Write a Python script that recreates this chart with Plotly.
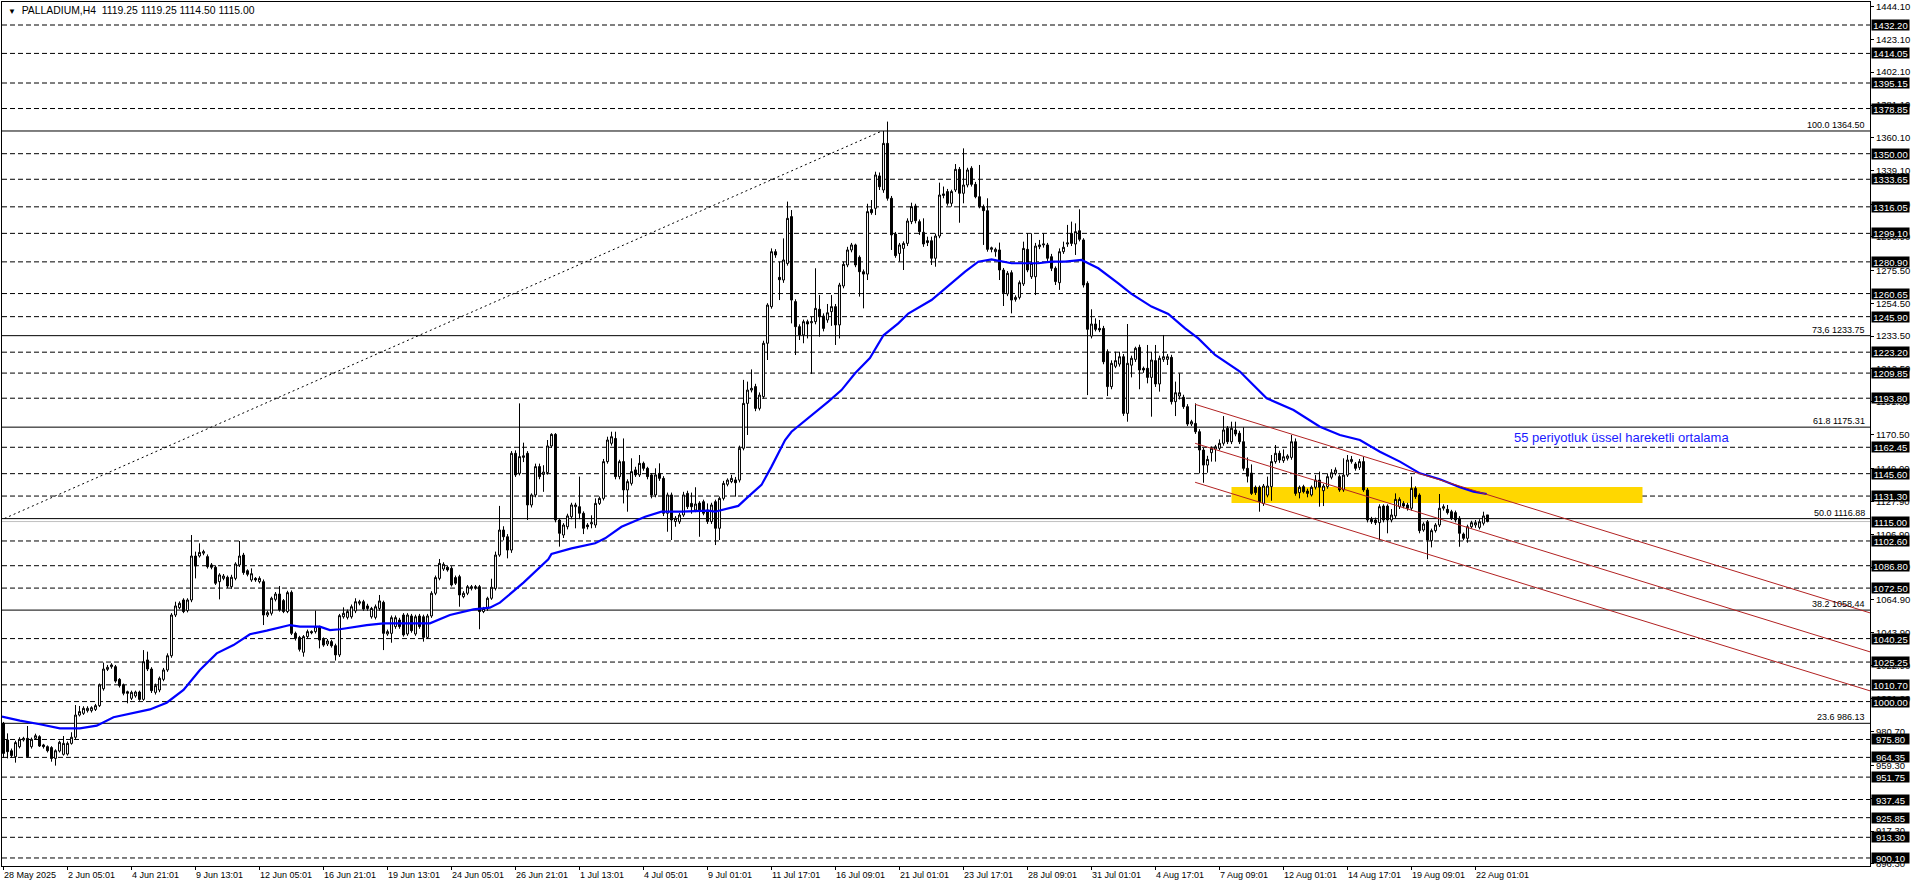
import plotly.graph_objects as go

FONT = "Liberation Sans, Arial, DejaVu Sans, sans-serif"

# ---------------- candle data (H4 bars, index 0 = 28 May 2025) ----------------
opens = [
    986.1, 975.5, 968.6, 964.8, 971.2, 975.5, 976.5, 971.2, 976.5, 977.6,
    972.3, 971.2, 970.6, 963.7, 968.4, 966.3, 966.5, 973.3, 977.2, 991.4,
    992.5, 994.2, 994.2, 995.0, 997.4, 1008.2, 1020.6, 1022.3, 1022.3, 1014.2,
    1010.6, 1006.3, 1002.1, 1003.6, 1006.1, 1001.4, 1026.6, 1020.8, 1005.9, 1007.4,
    1014.2, 1020.2, 1029.3, 1055.3, 1060.0, 1064.9, 1058.1, 1064.9, 1093.0, 1093.0,
    1094.8, 1092.6, 1087.3, 1085.8, 1076.6, 1078.7, 1079.4, 1073.4, 1078.7, 1087.3,
    1093.6, 1083.6, 1077.7, 1078.7, 1076.6, 1076.6, 1055.3, 1056.4, 1065.3, 1068.7,
    1064.5, 1057.5, 1069.8, 1043.6, 1041.0, 1031.5, 1041.5, 1044.7, 1044.7, 1047.4,
    1039.8, 1036.8, 1038.3, 1035.7, 1029.8, 1054.2, 1053.8, 1054.2, 1057.9, 1062.8,
    1063.8, 1061.1, 1054.2, 1053.8, 1059.5, 1063.4, 1043.2, 1043.6, 1047.9, 1052.1,
    1055.3, 1043.2, 1054.7, 1043.2, 1054.7, 1054.2, 1041.0, 1054.7, 1069.2, 1078.7,
    1084.7, 1085.8, 1085.1, 1079.2, 1079.8, 1067.0, 1069.2, 1072.3, 1073.4, 1073.4,
    1057.5, 1059.5, 1066.0, 1072.3, 1093.6, 1109.6, 1105.3, 1096.8, 1158.6, 1145.8,
    1156.0, 1158.6, 1125.6, 1132.0, 1150.1, 1145.1, 1146.3, 1163.3, 1170.7, 1116.0,
    1106.4, 1111.7, 1118.1, 1124.5, 1124.5, 1120.3, 1112.8, 1113.5, 1112.8, 1126.6,
    1129.8, 1153.3, 1165.0, 1168.1, 1143.7, 1153.3, 1135.2, 1139.4, 1148.0, 1144.8,
    1152.2, 1149.0, 1144.8, 1132.0, 1145.8, 1142.6, 1120.3, 1132.0, 1115.0, 1114.9,
    1119.2, 1133.0, 1126.6, 1122.4, 1126.8, 1127.7, 1122.4, 1115.0, 1127.7, 1110.7,
    1129.8, 1138.8, 1140.5, 1141.6, 1141.5, 1161.8, 1190.5, 1199.0, 1201.2, 1187.3,
    1194.8, 1228.9, 1252.3, 1287.4, 1271.0, 1269.3, 1279.9, 1309.8, 1255.5, 1239.5,
    1234.2, 1242.7, 1242.0, 1242.7, 1250.6, 1246.3, 1243.8, 1249.1, 1252.3, 1240.6,
    1265.5, 1278.9, 1288.5, 1291.7, 1283.8, 1274.6, 1273.1, 1314.3, 1315.1, 1335.8,
    1326.8, 1356.6, 1321.5, 1298.7, 1286.3, 1289.5, 1292.7, 1306.6, 1316.6, 1306.6,
    1299.8, 1294.4, 1294.4, 1283.2, 1297.4, 1323.3, 1325.8, 1318.3, 1326.8, 1340.0,
    1324.7, 1330.0, 1340.7, 1330.4, 1322.5, 1316.2, 1313.6, 1288.9, 1287.4, 1288.5,
    1275.7, 1260.4, 1274.0, 1256.9, 1258.2, 1266.8, 1288.9, 1271.4, 1271.4, 1290.6,
    1291.7, 1291.7, 1284.2, 1276.8, 1267.6, 1287.4, 1292.3, 1299.1, 1292.3, 1300.8,
    1294.9, 1267.2, 1233.5, 1241.2, 1238.4, 1238.4, 1223.5, 1201.2, 1214.2, 1215.6,
    1220.3, 1184.1, 1214.9, 1218.6, 1226.3, 1212.9, 1212.9, 1207.1, 1217.8, 1202.9,
    1218.6, 1218.6, 1219.9, 1191.6, 1195.2, 1194.4, 1188.4, 1177.3, 1177.7, 1172.4,
    1160.7, 1151.1, 1159.0, 1161.3, 1161.8, 1165.0, 1174.6, 1166.0, 1173.5, 1171.4,
    1166.0, 1149.0, 1146.0, 1136.9, 1136.9, 1126.6, 1131.9, 1137.3, 1153.3, 1158.6,
    1153.9, 1155.4, 1156.0, 1166.0, 1133.5, 1137.3, 1134.5, 1132.0, 1136.9, 1141.5,
    1134.7, 1137.3, 1143.3, 1145.8, 1143.7, 1135.2, 1144.7, 1153.3, 1151.8, 1149.6,
    1153.3, 1135.2, 1116.4, 1116.0, 1114.3, 1124.9, 1124.9, 1116.0, 1118.6, 1124.5,
    1126.6, 1125.6, 1123.5, 1136.2, 1131.9, 1109.6, 1114.9, 1102.8, 1109.2, 1112.8,
    1123.5, 1122.8, 1121.3, 1120.7, 1117.1, 1107.0, 1104.3, 1111.7, 1112.8, 1111.3,
    1113.9, 1119.25,
]
highs = [
    987.0, 979.7, 970.0, 975.0, 977.2, 977.5, 984.4, 977.0, 979.5, 978.5,
    973.0, 972.0, 971.5, 969.5, 975.0, 978.0, 974.5, 980.4, 997.8, 997.2,
    997.0, 997.0, 997.0, 998.5, 1011.5, 1024.9, 1023.4, 1024.5, 1023.4, 1015.0,
    1011.5, 1007.0, 1007.0, 1007.0, 1007.0, 1032.9, 1031.9, 1022.0, 1011.5, 1016.0,
    1021.5, 1030.8, 1056.5, 1063.8, 1064.0, 1066.0, 1066.0, 1106.4, 1095.8, 1101.1,
    1097.0, 1094.0, 1088.5, 1087.0, 1082.0, 1081.5, 1080.5, 1081.0, 1089.0, 1102.6,
    1095.0, 1084.5, 1085.1, 1079.5, 1080.0, 1078.0, 1058.0, 1067.0, 1070.0, 1073.8,
    1065.5, 1070.8, 1071.0, 1044.7, 1042.0, 1042.5, 1046.0, 1045.5, 1058.1, 1048.5,
    1041.0, 1040.0, 1039.5, 1037.0, 1056.0, 1060.2, 1058.8, 1062.0, 1066.0, 1065.0,
    1065.0, 1062.5, 1060.5, 1062.0, 1068.1, 1064.5, 1046.0, 1055.0, 1055.0, 1053.5,
    1056.5, 1056.5, 1056.0, 1055.5, 1056.0, 1055.5, 1056.0, 1070.5, 1080.5, 1091.1,
    1089.0, 1087.0, 1086.5, 1080.5, 1081.0, 1070.5, 1074.5, 1074.5, 1074.5, 1074.5,
    1060.5, 1067.0, 1078.5, 1095.8, 1125.0, 1112.0, 1107.0, 1160.0, 1160.5, 1190.5,
    1165.4, 1160.0, 1133.0, 1152.0, 1152.0, 1151.0, 1167.1, 1171.4, 1171.5, 1117.0,
    1114.0, 1120.0, 1127.0, 1127.0, 1143.7, 1121.5, 1114.0, 1119.0, 1129.8, 1131.0,
    1155.0, 1169.2, 1172.4, 1172.4, 1154.5, 1168.1, 1142.0, 1155.4, 1150.0, 1157.5,
    1153.3, 1150.0, 1146.0, 1149.0, 1152.2, 1144.0, 1133.5, 1133.5, 1118.5, 1120.5,
    1134.0, 1134.7, 1133.5, 1136.9, 1128.0, 1129.0, 1126.6, 1127.0, 1129.0, 1131.0,
    1141.0, 1142.6, 1144.8, 1143.5, 1163.5, 1205.5, 1204.4, 1212.2, 1203.0, 1197.5,
    1230.5, 1254.5, 1289.5, 1289.0, 1281.0, 1295.9, 1319.4, 1314.0, 1257.0, 1241.0,
    1244.0, 1244.0, 1245.9, 1276.8, 1259.7, 1248.0, 1254.0, 1259.7, 1254.0, 1267.5,
    1281.0, 1290.5, 1293.0, 1292.5, 1285.0, 1276.0, 1318.0, 1320.4, 1338.5, 1338.0,
    1364.5, 1370.5, 1323.0, 1300.0, 1293.0, 1294.0, 1308.7, 1318.7, 1318.0, 1308.0,
    1308.7, 1297.0, 1297.0, 1299.0, 1331.5, 1329.0, 1327.5, 1327.0, 1343.4, 1341.5,
    1353.4, 1341.0, 1342.0, 1332.0, 1342.8, 1317.5, 1321.5, 1290.6, 1290.0, 1293.2,
    1277.0, 1275.0, 1275.5, 1259.5, 1269.0, 1293.8, 1299.1, 1299.1, 1293.0, 1294.9,
    1299.1, 1293.0, 1286.0, 1278.0, 1289.5, 1293.8, 1304.5, 1306.6, 1305.5, 1314.5,
    1296.0, 1268.5, 1250.6, 1244.8, 1243.8, 1240.0, 1225.0, 1218.0, 1223.5, 1223.5,
    1222.0, 1241.2, 1221.0, 1226.7, 1228.0, 1214.0, 1227.8, 1223.5, 1227.8, 1221.0,
    1234.2, 1222.0, 1221.5, 1204.4, 1209.7, 1196.0, 1190.0, 1180.0, 1190.5, 1174.0,
    1162.0, 1157.0, 1163.0, 1164.0, 1167.5, 1182.4, 1176.0, 1178.8, 1178.8, 1173.0,
    1175.2, 1156.0, 1151.5, 1138.0, 1138.0, 1139.0, 1143.7, 1157.5, 1163.9, 1160.3,
    1161.1, 1158.0, 1170.3, 1168.1, 1138.0, 1138.5, 1136.0, 1138.0, 1144.7, 1146.9,
    1139.0, 1145.8, 1148.5, 1149.6, 1145.0, 1155.4, 1157.5, 1156.9, 1153.0, 1155.0,
    1156.4, 1136.5, 1118.0, 1117.5, 1126.0, 1126.0, 1126.0, 1123.0, 1133.0, 1130.5,
    1128.0, 1127.0, 1143.7, 1137.5, 1133.0, 1114.5, 1116.0, 1110.5, 1114.0, 1132.6,
    1126.0, 1125.6, 1122.5, 1122.0, 1118.5, 1108.0, 1113.0, 1115.5, 1116.0, 1116.5,
    1121.3, 1119.25,
]
lows = [
    964.0, 963.7, 964.0, 961.0, 970.1, 974.5, 964.0, 970.0, 975.5, 971.0,
    970.0, 967.5, 961.6, 959.1, 967.5, 965.5, 965.5, 972.5, 976.0, 990.5,
    991.5, 993.0, 993.0, 994.0, 996.5, 1007.0, 1019.5, 1021.0, 1012.0, 1009.0,
    1004.0, 998.9, 1001.0, 1002.5, 1000.5, 1000.5, 1019.5, 1005.5, 1004.5, 1006.0,
    1013.0, 1019.0, 1028.0, 1054.0, 1059.0, 1056.5, 1057.0, 1063.5, 1078.7, 1092.0,
    1093.5, 1085.0, 1084.5, 1074.5, 1065.3, 1077.5, 1072.5, 1072.0, 1077.5, 1086.0,
    1081.0, 1080.0, 1076.5, 1076.5, 1075.5, 1048.9, 1054.0, 1055.0, 1064.0, 1057.5,
    1056.5, 1056.5, 1042.5, 1039.0, 1032.0, 1028.7, 1040.5, 1043.0, 1043.5, 1034.0,
    1035.0, 1035.5, 1034.5, 1026.2, 1028.5, 1053.0, 1052.5, 1053.0, 1056.5, 1061.5,
    1058.0, 1058.0, 1053.0, 1052.5, 1058.0, 1032.9, 1042.0, 1037.6, 1046.5, 1046.5,
    1041.5, 1042.0, 1044.0, 1042.0, 1046.5, 1038.3, 1040.0, 1053.5, 1068.0, 1077.5,
    1083.5, 1083.0, 1073.5, 1074.5, 1060.6, 1066.0, 1068.0, 1071.0, 1071.5, 1046.2,
    1056.5, 1058.0, 1065.0, 1071.0, 1092.5, 1103.0, 1091.5, 1095.0, 1143.5, 1144.5,
    1153.0, 1116.0, 1124.0, 1130.5, 1142.0, 1134.0, 1145.0, 1162.0, 1114.5, 1099.0,
    1104.5, 1110.0, 1116.5, 1110.7, 1116.5, 1107.0, 1110.0, 1110.7, 1111.0, 1125.6,
    1128.5, 1152.0, 1163.5, 1142.0, 1142.0, 1126.6, 1121.3, 1138.0, 1143.5, 1143.5,
    1147.5, 1142.0, 1129.8, 1130.5, 1141.0, 1118.5, 1108.5, 1103.2, 1111.7, 1113.5,
    1118.0, 1123.0, 1120.0, 1121.0, 1105.3, 1119.0, 1113.5, 1113.5, 1100.0, 1103.2,
    1128.5, 1137.5, 1139.5, 1130.9, 1140.0, 1160.5, 1170.3, 1197.5, 1185.5, 1186.0,
    1193.5, 1218.2, 1251.0, 1283.5, 1256.5, 1267.5, 1278.5, 1241.6, 1221.4, 1231.0,
    1228.9, 1232.0, 1209.3, 1241.0, 1233.1, 1236.5, 1242.0, 1240.0, 1227.8, 1232.0,
    1264.0, 1277.5, 1287.0, 1277.5, 1258.7, 1251.2, 1269.3, 1311.0, 1310.8, 1326.8,
    1325.0, 1320.0, 1288.5, 1283.5, 1281.0, 1275.7, 1291.0, 1305.0, 1305.5, 1298.1,
    1290.5, 1291.0, 1278.9, 1277.8, 1296.0, 1321.5, 1316.8, 1316.2, 1325.5, 1305.9,
    1318.3, 1328.5, 1329.0, 1321.5, 1315.1, 1291.7, 1287.4, 1287.0, 1284.2, 1269.3,
    1252.7, 1259.0, 1248.0, 1255.5, 1256.9, 1265.5, 1274.3, 1270.0, 1259.7, 1289.0,
    1290.0, 1281.5, 1275.0, 1266.1, 1263.0, 1286.0, 1290.5, 1291.0, 1285.3, 1294.0,
    1264.5, 1195.8, 1232.0, 1236.5, 1236.0, 1215.5, 1195.2, 1199.5, 1213.0, 1214.0,
    1182.5, 1178.8, 1207.1, 1217.0, 1199.5, 1210.0, 1203.3, 1182.0, 1201.0, 1198.0,
    1217.0, 1215.0, 1189.8, 1182.4, 1193.0, 1187.0, 1176.0, 1176.0, 1171.0, 1145.8,
    1139.8, 1146.2, 1153.3, 1153.3, 1160.5, 1163.5, 1164.5, 1164.5, 1169.5, 1164.5,
    1147.5, 1140.0, 1132.0, 1132.0, 1121.3, 1125.0, 1130.5, 1128.3, 1152.0, 1152.5,
    1152.5, 1154.0, 1154.5, 1131.5, 1129.8, 1133.0, 1130.5, 1131.0, 1135.5, 1124.5,
    1124.9, 1136.0, 1142.0, 1144.5, 1134.0, 1134.0, 1143.5, 1152.0, 1147.5, 1148.0,
    1134.0, 1114.5, 1113.5, 1112.8, 1103.2, 1114.5, 1107.5, 1114.5, 1117.0, 1123.0,
    1123.5, 1122.0, 1122.0, 1129.5, 1107.5, 1108.5, 1090.9, 1098.5, 1108.0, 1111.5,
    1122.0, 1119.5, 1116.0, 1114.5, 1098.9, 1103.0, 1101.5, 1110.5, 1111.0, 1110.0,
    1112.5, 1114.50,
]
closes = [
    966.9, 968.0, 965.5, 973.8, 975.9, 976.5, 964.8, 975.9, 978.2, 971.6,
    971.2, 968.6, 963.7, 968.6, 974.0, 973.3, 973.3, 977.2, 991.4, 993.6,
    995.7, 995.7, 996.1, 997.4, 1010.6, 1020.8, 1021.9, 1023.4, 1013.1, 1010.2,
    1005.3, 1005.3, 1005.9, 1006.1, 1001.4, 1025.5, 1020.8, 1007.0, 1010.2, 1014.9,
    1020.2, 1029.3, 1055.3, 1061.1, 1062.8, 1057.5, 1064.9, 1093.0, 1086.6, 1095.3,
    1095.8, 1086.2, 1085.8, 1075.6, 1080.9, 1080.2, 1073.8, 1079.4, 1087.9, 1093.0,
    1082.4, 1081.3, 1081.7, 1077.7, 1078.7, 1055.3, 1056.8, 1066.0, 1068.7, 1058.5,
    1057.5, 1069.6, 1043.6, 1040.4, 1033.4, 1041.5, 1044.7, 1044.0, 1047.9, 1039.3,
    1036.1, 1038.7, 1035.7, 1029.8, 1054.9, 1056.4, 1057.5, 1060.6, 1063.8, 1063.8,
    1059.1, 1059.5, 1059.5, 1060.6, 1064.3, 1043.6, 1044.7, 1053.6, 1053.6, 1047.9,
    1042.6, 1055.3, 1045.3, 1054.2, 1047.9, 1041.0, 1054.7, 1069.2, 1079.2, 1088.3,
    1087.7, 1084.1, 1074.5, 1075.6, 1068.1, 1069.2, 1073.4, 1073.4, 1072.8, 1057.5,
    1059.5, 1066.0, 1073.0, 1093.6, 1109.6, 1105.3, 1096.8, 1158.6, 1144.8, 1156.5,
    1157.0, 1125.6, 1132.0, 1150.1, 1143.7, 1146.6, 1163.3, 1170.7, 1116.0, 1107.5,
    1112.8, 1118.6, 1125.6, 1125.6, 1120.3, 1110.7, 1111.7, 1114.3, 1126.6, 1129.8,
    1153.3, 1167.1, 1169.2, 1143.7, 1153.3, 1135.2, 1140.5, 1146.9, 1144.8, 1152.2,
    1149.0, 1143.7, 1132.0, 1144.8, 1142.6, 1120.3, 1132.0, 1116.0, 1117.1, 1119.2,
    1132.0, 1124.5, 1124.5, 1126.2, 1122.4, 1120.3, 1115.0, 1125.6, 1110.7, 1129.8,
    1139.4, 1141.5, 1142.6, 1139.8, 1161.8, 1190.5, 1199.0, 1200.1, 1187.3, 1195.8,
    1228.9, 1253.3, 1287.4, 1285.3, 1269.5, 1282.1, 1308.7, 1256.5, 1239.5, 1234.2,
    1242.7, 1241.2, 1242.7, 1251.2, 1245.9, 1238.4, 1248.4, 1252.3, 1240.6, 1266.1,
    1279.3, 1288.5, 1291.7, 1278.9, 1274.6, 1273.1, 1313.0, 1312.3, 1336.4, 1328.9,
    1356.6, 1321.5, 1298.1, 1284.9, 1291.7, 1292.7, 1307.0, 1316.2, 1307.2, 1300.2,
    1292.3, 1293.2, 1283.2, 1297.4, 1323.6, 1324.3, 1318.3, 1325.8, 1340.0, 1324.7,
    1330.0, 1339.6, 1330.4, 1322.5, 1316.2, 1313.6, 1288.9, 1289.9, 1288.9, 1275.7,
    1261.2, 1273.6, 1256.5, 1258.2, 1267.6, 1289.5, 1275.7, 1280.0, 1291.0, 1291.7,
    1292.3, 1283.2, 1276.8, 1268.3, 1287.4, 1290.2, 1293.0, 1292.7, 1300.2, 1295.3,
    1266.1, 1237.8, 1241.2, 1237.8, 1237.4, 1217.1, 1201.2, 1216.1, 1217.8, 1220.3,
    1184.1, 1216.1, 1219.3, 1225.7, 1211.8, 1211.8, 1207.1, 1218.2, 1202.9, 1219.3,
    1220.3, 1220.3, 1191.6, 1197.3, 1197.3, 1188.4, 1177.3, 1178.8, 1172.4, 1160.7,
    1151.1, 1154.7, 1161.8, 1162.8, 1165.0, 1173.5, 1166.0, 1174.6, 1170.9, 1166.0,
    1149.0, 1144.0, 1133.0, 1133.5, 1127.7, 1137.7, 1137.7, 1153.3, 1158.6, 1154.3,
    1156.4, 1156.9, 1166.0, 1133.0, 1136.9, 1134.1, 1133.0, 1136.9, 1141.5, 1136.9,
    1137.7, 1143.7, 1146.2, 1147.9, 1135.2, 1144.7, 1154.3, 1154.7, 1149.0, 1153.3,
    1135.2, 1116.0, 1114.9, 1114.3, 1124.5, 1116.0, 1116.0, 1119.2, 1129.2, 1129.2,
    1124.9, 1123.5, 1136.2, 1130.9, 1109.2, 1113.4, 1103.2, 1109.2, 1112.8, 1123.5,
    1124.5, 1120.7, 1117.1, 1116.0, 1107.5, 1104.3, 1111.7, 1114.3, 1114.3, 1114.9,
    1118.6, 1115.00,
]
bars = list(range(len(closes)))

# ---------------- 55-period EMA ----------------
ma_bars = [-0.4, 4.1, 9.1, 14.1, 19.1, 23.3, 27.5, 32.5, 36.6, 40.8, 45.0, 49.1, 53.3,
           57.5, 61.6, 65.8, 71.6, 74.1, 79.1, 81.6, 84.1, 90.8, 95.0, 106.6, 111.6,
           117.5, 121.6, 124.1, 130.0, 136.2, 137.0, 142.0, 147.9, 150.4, 154.5, 160.4,
           164.5, 169.5, 176.2, 177.9, 183.7, 186.2, 189.5, 192.0, 195.4, 197.0, 201.2,
           206.2, 209.5, 212.9, 216.6, 220.0, 223.7, 226.2, 232.0, 235.4, 240.4, 243.7,
           247.0, 252.0, 258.7, 262.0, 265.4, 269.5, 273.7, 278.7, 282.0, 287.0, 291.2,
           295.4, 298.7, 302.9, 309.1, 311.2, 315.8, 322.5, 329.1, 334.1, 339.1, 344.1,
           349.1, 354.1, 359.1, 364.1, 367.5, 370.8]
ma_vals = [990.4, 987.8, 985.5, 982.9, 982.9, 984.6, 990.0, 992.5, 995.0, 999.3, 1007.4,
           1020.2, 1030.8, 1036.1, 1043.0, 1045.3, 1048.9, 1047.9, 1047.9, 1045.7, 1046.2,
           1048.9, 1050.0, 1050.0, 1055.3, 1058.9, 1060.0, 1063.2, 1076.0, 1090.9, 1094.3,
           1097.9, 1101.1, 1104.3, 1111.7, 1118.1, 1121.3, 1121.3, 1122.0, 1121.3, 1125.0,
           1130.9, 1138.4, 1150.1, 1167.1, 1172.4, 1180.9, 1191.6, 1199.0, 1209.7, 1219.5,
           1234.0, 1241.6, 1247.9, 1256.5, 1264.0, 1274.7, 1281.0, 1282.5, 1280.0, 1280.0,
           1281.0, 1281.0, 1282.1, 1276.8, 1267.2, 1260.4, 1252.3, 1247.6, 1238.4, 1232.0,
           1221.4, 1210.8, 1205.4, 1193.7, 1186.3, 1175.6, 1170.3, 1167.1, 1159.6, 1153.3,
           1145.8, 1142.0, 1136.9, 1134.1, 1132.6]

# ---------------- horizontal objects ----------------
hline_levels = [1432.20, 1414.05, 1395.15, 1378.85, 1350.00, 1333.65, 1316.05, 1299.10,
                1280.90, 1260.65, 1245.90, 1223.20, 1209.85, 1193.80, 1162.45, 1145.60,
                1131.30, 1102.60, 1086.80, 1072.50, 1040.25, 1025.25, 1010.70, 1000.00,
                975.80, 964.35, 951.75, 937.45, 925.85, 913.30, 900.10]
bid_price = 1115.00
fib_prices = [1364.50, 1233.75, 1175.31, 1116.88, 1058.44, 986.13]
fib_texts = ["100.0 1364.50", "73,6 1233.75", "61.8 1175.31", "50.0 1116.88",
             "38.2 1058.44", "23.6 986.13"]

scale_ticks = [1444.10, 1423.10, 1402.10, 1381.10, 1360.10, 1339.10, 1317.70, 1296.90,
               1275.50, 1254.50, 1233.50, 1212.50, 1191.50, 1170.50, 1149.00, 1127.90,
               1106.90, 1085.90, 1064.90, 1043.90, 1022.90, 1001.90, 980.70, 959.30,
               938.30, 917.30, 896.30]

date_label_bars = list(range(0, 369, 16))
date_labels = ["28 May 2025", "2 Jun 05:01", "4 Jun 21:01", "9 Jun 13:01", "12 Jun 05:01",
               "16 Jun 21:01", "19 Jun 13:01", "24 Jun 05:01", "26 Jun 21:01", "1 Jul 13:01",
               "4 Jul 05:01", "9 Jul 01:01", "11 Jul 17:01", "16 Jul 09:01", "21 Jul 01:01",
               "23 Jul 17:01", "28 Jul 09:01", "31 Jul 01:01", "4 Aug 17:01", "7 Aug 09:01",
               "12 Aug 01:01", "14 Aug 17:01", "19 Aug 09:01", "22 Aug 01:01"]

# drawing objects (bar index, price)
channel_bars = [297.9, 470.0]
channel_starts = [1189.9, 1165.0, 1140.1]
channel_ends = [1054.0, 1029.1, 1004.2]
zone_bars = [307.0, 409.75]
zone_prices = [1126.9, 1137.1]
trend_bars = [-0.9, 219.6]
trend_prices = [1115.7, 1364.5]

title_text = ("<span style='font-size:8px'>\u25bc</span>\u00a0\u00a0PALLADIUM,H4"
              "\u00a0\u00a01119.25 1119.25 1114.50 1115.00")
ma_text = "55 periyotluk üssel hareketli ortalama"
ma_text_bar, ma_text_price = 377.0, 1168.6

x_range = [-0.375, 466.625]
y_range = [894.97, 1446.9]

fig = go.Figure()

fig.add_trace(go.Candlestick(
    x=bars, open=opens, high=highs, low=lows, close=closes,
    increasing=dict(line=dict(color="black", width=1), fillcolor="white"),
    decreasing=dict(line=dict(color="black", width=1), fillcolor="black"),
    whiskerwidth=0, hoverinfo="skip", showlegend=False,
))
fig.add_trace(go.Scatter(x=ma_bars, y=ma_vals, mode="lines",
                         line=dict(color="#0000FF", width=2.2), hoverinfo="skip",
                         showlegend=False))
for s, e in zip(channel_starts, channel_ends):
    fig.add_trace(go.Scatter(x=channel_bars, y=[s, e], mode="lines",
                             line=dict(color="#B22222", width=1), hoverinfo="skip",
                             showlegend=False))
fig.add_trace(go.Scatter(x=trend_bars, y=trend_prices, mode="lines",
                         line=dict(color="black", width=1, dash="2px,3px"),
                         hoverinfo="skip", showlegend=False))

shapes = [dict(type="rect", xref="x", yref="y", x0=zone_bars[0], x1=zone_bars[1],
               y0=zone_prices[0], y1=zone_prices[1], fillcolor="#FFD700",
               line=dict(width=0), layer="below")]
for lv in hline_levels:
    shapes.append(dict(type="line", xref="paper", yref="y", x0=0, x1=1, y0=lv, y1=lv,
                       line=dict(color="black", width=1, dash="5px,3px"), layer="below"))
for fp in fib_prices:
    shapes.append(dict(type="line", xref="paper", yref="y", x0=0, x1=1, y0=fp, y1=fp,
                       line=dict(color="black", width=1), layer="below"))
shapes.append(dict(type="line", xref="paper", yref="y", x0=0, x1=1, y0=bid_price,
                   y1=bid_price, line=dict(color="#C0C0C0", width=1), layer="below"))

ann = []
ann.append(dict(text=title_text, xref="paper", yref="paper", x=0, y=1, xanchor="left",
                yanchor="top", xshift=4, yshift=-1, showarrow=False,
                font=dict(family=FONT, size=10.4, color="black")))
for b, t in zip(date_label_bars, date_labels):
    ann.append(dict(text=t, xref="x", yref="paper", x=b, y=0, xanchor="left",
                    yanchor="top", xshift=-2, yshift=-2, showarrow=False,
                    font=dict(family=FONT, size=9, color="black")))
for fp, ft in zip(fib_prices, fib_texts):
    ann.append(dict(text=ft, xref="paper", yref="y", x=1, y=fp, xanchor="right",
                    yanchor="bottom", xshift=-3, yshift=-1, showarrow=False,
                    font=dict(family=FONT, size=9, color="black")))
for lv in hline_levels + [bid_price]:
    ann.append(dict(text=f"{lv:.2f}", xref="paper", yref="y", x=1, y=lv, xanchor="left",
                    yanchor="middle", xshift=0.5, showarrow=False, bgcolor="black",
                    width=37, height=10, borderpad=0,
                    font=dict(family=FONT, size=9.5, color="white")))
ann.append(dict(text=ma_text, xref="x", yref="y", x=ma_text_bar, y=ma_text_price,
                xanchor="left", yanchor="middle", showarrow=False,
                font=dict(family=FONT, size=13, color="#1A1AFF")))

fig.update_layout(
    width=1916, height=888,
    margin=dict(l=2, r=46, t=2, b=22),
    paper_bgcolor="white", plot_bgcolor="white",
    shapes=shapes, annotations=ann, showlegend=False,
    font=dict(family=FONT, size=9, color="black"),
    xaxis=dict(range=x_range, showgrid=False, zeroline=False, showline=True,
               linecolor="black", linewidth=1, mirror=True, ticks="outside",
               tickvals=date_label_bars, ticklen=3, tickcolor="black",
               showticklabels=False, rangeslider=dict(visible=False), fixedrange=True),
    yaxis=dict(range=y_range, side="right", showgrid=False, zeroline=False,
               showline=True, linecolor="black", linewidth=1, mirror=True,
               ticks="outside", ticklen=3, tickcolor="black", tickvals=scale_ticks,
               ticktext=[f"{v:.2f}" for v in scale_ticks],
               tickfont=dict(family=FONT, size=9.5, color="black"), fixedrange=True),
)

fig.write_html("out.html", config={"displayModeBar": False},
               post_script="document.body.style.margin='0px';document.body.style.overflow='hidden';")
